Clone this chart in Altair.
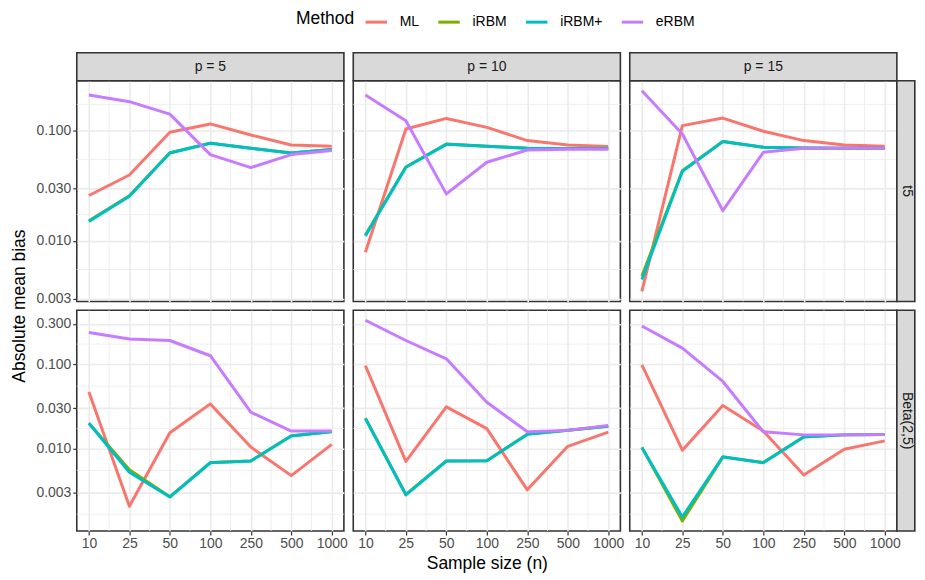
import json
import math
import altair as alt
import pandas as pd

FONT = "Liberation Sans"

sample_sizes = ["10", "25", "50", "100", "250", "500", "1000"]
methods = ["ML", "iRBM", "iRBM+", "eRBM"]
method_colors = ["#F8766D", "#7CAE00", "#00BFC4", "#C77CFF"]
p_labels = ["p = 5", "p = 10", "p = 15"]
dist_labels = ["t5", "Beta(2,5)"]

# ---- t5 ----
t5_p5_ml = [0.0258, 0.0396, 0.0966, 0.115, 0.0912, 0.0741, 0.0721]
t5_p5_irbm = [0.0152, 0.0256, 0.0630, 0.0770, 0.0693, 0.0628, 0.0675]
t5_p5_irbmp = [0.0150, 0.0254, 0.0627, 0.0767, 0.0691, 0.0627, 0.0673]
t5_p5_erbm = [0.210, 0.183, 0.141, 0.0606, 0.0462, 0.0606, 0.0659]

t5_p10_ml = [0.0079, 0.1034, 0.129, 0.107, 0.0812, 0.0741, 0.0716]
t5_p10_irbm = [0.0113, 0.0468, 0.0755, 0.0723, 0.0693, 0.0688, 0.0688]
t5_p10_irbmp = [0.0111, 0.0465, 0.0751, 0.0721, 0.0691, 0.0687, 0.0687]
t5_p10_erbm = [0.210, 0.123, 0.0267, 0.0516, 0.0667, 0.0677, 0.0677]

t5_p15_ml = [0.00348, 0.111, 0.130, 0.0986, 0.0812, 0.0741, 0.0721]
t5_p15_irbm = [0.0048, 0.0432, 0.0798, 0.0708, 0.0697, 0.0692, 0.0692]
t5_p15_irbmp = [0.00447, 0.0428, 0.0795, 0.0706, 0.0696, 0.0691, 0.0691]
t5_p15_erbm = [0.230, 0.0931, 0.0188, 0.0636, 0.0691, 0.0691, 0.0691]

# ---- Beta(2,5) ----
beta_p5_ml = [0.0469, 0.00206, 0.0154, 0.0338, 0.0104, 0.00476, 0.0112]
beta_p5_irbm = [0.0200, 0.0056, 0.00268, 0.0068, 0.0071, 0.0142, 0.0159]
beta_p5_irbmp = [0.0199, 0.00522, 0.00265, 0.00677, 0.0071, 0.0141, 0.0158]
beta_p5_erbm = [0.238, 0.199, 0.191, 0.126, 0.027, 0.0161, 0.0161]

beta_p10_ml = [0.0963, 0.00703, 0.0312, 0.0172, 0.00323, 0.0106, 0.0156]
beta_p10_irbm = [0.0229, 0.00285, 0.0071, 0.00716, 0.0148, 0.0165, 0.0184]
beta_p10_irbmp = [0.0227, 0.00282, 0.0071, 0.00714, 0.0147, 0.0164, 0.0183]
beta_p10_erbm = [0.332, 0.191, 0.116, 0.0353, 0.0158, 0.0164, 0.0187]

beta_p15_ml = [0.098, 0.00955, 0.0323, 0.0161, 0.00485, 0.0098, 0.0123]
beta_p15_irbm = [0.0103, 0.00138, 0.0079, 0.0068, 0.0138, 0.0145, 0.0146]
beta_p15_irbmp = [0.0103, 0.00154, 0.00796, 0.00677, 0.0137, 0.0145, 0.0146]
beta_p15_erbm = [0.284, 0.155, 0.0624, 0.0158, 0.0145, 0.0145, 0.0146]

table = {
    "t5": {
        "p = 5": [t5_p5_ml, t5_p5_irbm, t5_p5_irbmp, t5_p5_erbm],
        "p = 10": [t5_p10_ml, t5_p10_irbm, t5_p10_irbmp, t5_p10_erbm],
        "p = 15": [t5_p15_ml, t5_p15_irbm, t5_p15_irbmp, t5_p15_erbm],
    },
    "Beta(2,5)": {
        "p = 5": [beta_p5_ml, beta_p5_irbm, beta_p5_irbmp, beta_p5_erbm],
        "p = 10": [beta_p10_ml, beta_p10_irbm, beta_p10_irbmp, beta_p10_erbm],
        "p = 15": [beta_p15_ml, beta_p15_irbm, beta_p15_irbmp, beta_p15_erbm],
    },
}

y_breaks = {"t5": [0.003, 0.01, 0.03, 0.1], "Beta(2,5)": [0.003, 0.01, 0.03, 0.1, 0.3]}
y_minor = {"t5": [0.0055, 0.0173, 0.0548, 0.173],
           "Beta(2,5)": [0.00166, 0.0055, 0.0173, 0.0548, 0.173]}
x_minor = [0.5, 1.5, 2.5, 3.5, 4.5, 5.5]

rows = []
for dist in dist_labels:
    for p in p_labels:
        for m, vals in zip(methods, table[dist][p]):
            for i, v in enumerate(vals):
                rows.append({"dist": dist, "p": p, "Method": m, "xi": i,
                             "n": sample_sizes[i], "value": v})
df = pd.DataFrame(rows)


def log_domain(dist):
    v = df[df.dist == dist]["value"]
    lo, hi = math.log10(v.min()), math.log10(v.max())
    pad = 0.05 * (hi - lo)
    return [10 ** (lo - pad), 10 ** (hi + pad)]


W, H = 268, 221.5
S_TOP = 28
S_RIGHT = 18
GAP_COL, GAP_ROW = 9.4, 8.3
GRID = "#EBEBEB"
label_expr = json.dumps(sample_sizes) + "[datum.value]"

color_enc = alt.Color(
    "Method:N",
    scale=alt.Scale(domain=methods, range=method_colors),
    legend=alt.Legend(orient="none", legendX=220, legendY=-71.5,
                      direction="horizontal", titleOrient="left"),
)


def panel(r, c):
    dist = dist_labels[r]
    p = p_labels[c]
    bottom = r == 1
    left = c == 0
    xs = alt.Scale(domain=[-0.3, 6.3], nice=False, zero=False)
    ys = alt.Scale(type="log", domain=log_domain(dist), nice=False)

    if bottom:
        xaxis = alt.Axis(values=list(range(7)), labelExpr=label_expr, grid=True,
                         domain=False, labelFlush=False, ticks=True,
                         titleBaseline="alphabetic", titleY=37.2)
    else:
        xaxis = alt.Axis(values=list(range(7)), grid=True, domain=False,
                         labels=False, ticks=False)
    if left:
        yaxis = alt.Axis(values=y_breaks[dist], format=".3f", grid=True,
                         domain=False, labelFlush=False, ticks=True,
                         titleBaseline="alphabetic", titleX=-52.4,
                         titleY=H + GAP_ROW / 2)
    else:
        yaxis = alt.Axis(values=y_breaks[dist], grid=True, domain=False,
                         labels=False, ticks=False)
    xtitle = "Sample size (n)" if (bottom and c == 1) else None
    ytitle = "Absolute mean bias" if (left and r == 0) else None

    def X(field):
        return alt.X(field, type="quantitative", scale=xs, axis=xaxis, title=xtitle)

    def Y(field):
        return alt.Y(field, type="quantitative", scale=ys, axis=yaxis, title=ytitle)

    layers = []
    layers.append(
        alt.Chart(pd.DataFrame({"ym": y_minor[dist]}))
        .mark_rule(color=GRID, strokeWidth=0.8)
        .encode(y=Y("ym"))
    )
    layers.append(
        alt.Chart(pd.DataFrame({"xm": x_minor}))
        .mark_rule(color=GRID, strokeWidth=0.8)
        .encode(x=X("xm"))
    )
    sub = df[(df.dist == dist) & (df.p == p)]
    for m in methods:
        layers.append(
            alt.Chart(sub[sub.Method == m])
            .mark_line(strokeWidth=3, strokeCap="butt", strokeJoin="round")
            .encode(x=X("xi"), y=Y("value"), color=color_enc)
        )
    if r == 0:
        sdf = pd.DataFrame({"label": [p]})
        layers.append(
            alt.Chart(sdf).mark_rect(fill="#D9D9D9", stroke="#333333", strokeWidth=1.6)
            .encode(x=alt.value(0), x2=alt.value(W), y=alt.value(-S_TOP), y2=alt.value(0))
        )
        layers.append(
            alt.Chart(sdf).mark_text(fontSize=14, color="#1A1A1A", font=FONT,
                                     align="center", baseline="middle")
            .encode(text="label:N", x=alt.value(W / 2), y=alt.value(-S_TOP / 2))
        )
    if c == 2:
        rdf = pd.DataFrame({"label": [dist]})
        layers.append(
            alt.Chart(rdf).mark_rect(fill="#D9D9D9", stroke="#333333", strokeWidth=1.6)
            .encode(x=alt.value(W), x2=alt.value(W + S_RIGHT), y=alt.value(0), y2=alt.value(H))
        )
        layers.append(
            alt.Chart(rdf).mark_text(fontSize=14, color="#1A1A1A", font=FONT,
                                     align="center", baseline="middle", angle=90)
            .encode(text="label:N", x=alt.value(W + S_RIGHT / 2 + 1), y=alt.value(H / 2))
        )
    return alt.layer(*layers).properties(width=W, height=H)


panels = [panel(r, c) for r in range(2) for c in range(3)]

chart = (
    alt.ConcatChart(concat=panels, columns=3,
                    spacing=alt.RowColnumber(row=GAP_ROW, column=GAP_COL), bounds="flush")
    .properties(padding={"left": 1, "top": 0, "right": 0, "bottom": 0})
    .configure(font=FONT)
    .configure_view(stroke="#333333", strokeWidth=1.6, fill="white")
    .configure_axis(
        gridColor=GRID, gridWidth=1.6,
        labelColor="#4D4D4D", labelFontSize=14, labelFont=FONT,
        tickColor="#333333", tickSize=4, tickWidth=1.2,
        labelPadding=2,
        titleColor="black", titleFontSize=17.5, titleFont=FONT,
        titleFontWeight="normal", titlePadding=5,
    )
    .configure_legend(
        titleFontSize=17.5, titleFontWeight="normal", titleColor="black",
        titleFont=FONT, titlePadding=9,
        labelFontSize=14, labelColor="black", labelFont=FONT,
        labelOffset=11, columnPadding=12,
        symbolType="M-1,0L1,0", symbolStrokeWidth=3, symbolSize=462,
    )
)

chart.save("out.html", embed_options={"renderer": "svg", "actions": False})
